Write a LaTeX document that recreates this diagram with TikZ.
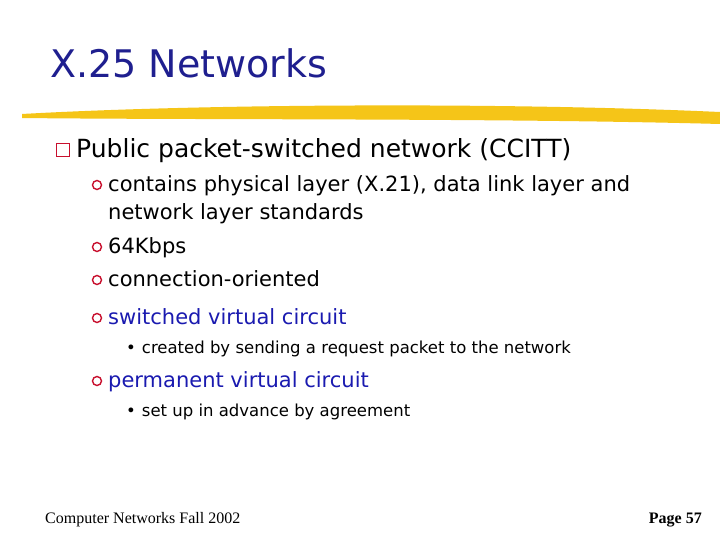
\documentclass[tikz,border=0pt]{standalone}
\usepackage{fontspec}
\setmainfont{DejaVu Sans}
\newfontfamily\foot{Liberation Serif}
\definecolor{ttl}{HTML}{1F1F8F}
\definecolor{blu}{HTML}{1A1AB0}
\definecolor{bred}{HTML}{C8102E}
\definecolor{ylw}{HTML}{F5C518}
\begin{document}
\begin{tikzpicture}[x=1pt,y=-1pt,
  t/.style={anchor=base west,inner sep=0pt},
  l1/.style={t,font=\fontsize{25}{28}\selectfont},
  l2/.style={t,font=\fontsize{21}{24}\selectfont},
  l3/.style={t,font=\fontsize{16.5}{18}\selectfont},
  cb/.style={draw=bred,line width=1.4pt,circle,minimum size=9pt,inner sep=0pt}]
\useasboundingbox (0,0) rectangle (720,540);
\fill[white] (0,0) rectangle (720,540);
\node[t,font=\fontsize{38}{42}\selectfont,text=ttl] (title) at (50,78) {X.25 Networks};
\fill[ylw] (22,114) .. controls (200,104) and (500,102) .. (720,112) -- (720,124) .. controls (500,118) and (200,120) .. (22,118) -- cycle;
\node[draw=bred,line width=1.8pt,minimum size=13pt,inner sep=0pt] (b1) at (63,150) {};
\node[l1] (a) at (76,158) {Public packet-switched network (CCITT)};
\foreach \y/\n in {185/c1,247/c2,280/c3,318/c4,381/c5}
  \node[cb] (\n) at (97,\y) {};
\node[l2] (s1) at (108,192) {contains physical layer (X.21), data link layer and};
\node[l2] (s1b) at (108,220) {network layer standards};
\node[l2] (s2) at (108,253) {64Kbps};
\node[l2] (s3) at (108,286) {connection-oriented};
\node[l2,text=blu] (s4) at (108,324) {switched virtual circuit};
\node[l3] (d1) at (126,353) {\textbullet\hspace{6pt}created by sending a request packet to the network};
\node[l2,text=blu] (s5) at (108,387) {permanent virtual circuit};
\node[l3] (d2) at (126,416) {\textbullet\hspace{6pt}set up in advance by agreement};
\node[t,font=\foot\fontsize{16}{18}\selectfont] (f1) at (45,523) {Computer Networks Fall 2002};
\node[anchor=base east,inner sep=0pt,font=\foot\bfseries\fontsize{16}{18}\selectfont] (f2) at (702,523) {Page 57};
\end{tikzpicture}
\end{document}
